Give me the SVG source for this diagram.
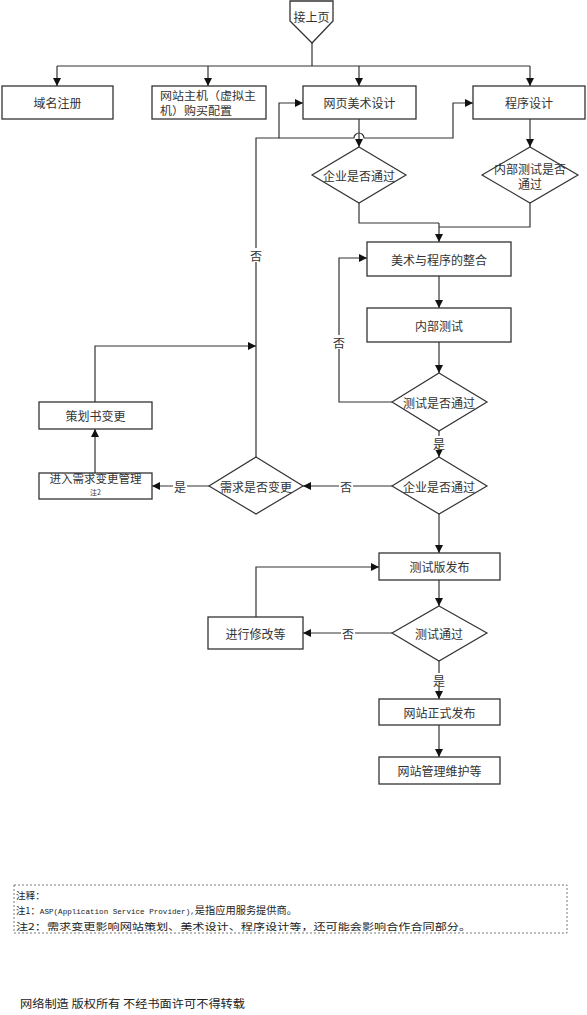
<svg xmlns="http://www.w3.org/2000/svg" width="587" height="1015" viewBox="0 0 587 1015">
<style>
.box{fill:#fff;stroke:#333;stroke-width:1.3}
.dia{fill:#fff;stroke:#333;stroke-width:1.2}
.t{font-family:"Noto Sans CJK SC","Noto Sans",sans-serif;font-size:12px;fill:#333;text-anchor:middle;dominant-baseline:central}
.n{font-family:"Noto Sans CJK SC","Noto Sans",sans-serif;font-size:9.6px;fill:#222}
.c{fill:none;stroke:#333;stroke-width:1.2}
.lb{fill:#fff;stroke:none}
</style>
<defs>
<marker id="ar" markerUnits="userSpaceOnUse" markerWidth="8" markerHeight="8" refX="8" refY="4" orient="auto">
<path d="M0,0 L8,4 L0,8 z" fill="#111"/>
</marker>
</defs>
<rect width="587" height="1015" fill="#fff"/>
<g id="connectors">
<path class="c" d="M312,43 V66"/>
<path class="c" d="M57,66 H530"/>
<path class="c" d="M57,66 V86" marker-end="url(#ar)"/>
<path class="c" d="M208,66 V86" marker-end="url(#ar)"/>
<path class="c" d="M359,66 V86" marker-end="url(#ar)"/>
<path class="c" d="M530,66 V86" marker-end="url(#ar)"/>
<path class="c" d="M256,457 V138 H279 V103 H303" marker-end="url(#ar)"/>
<path class="c" d="M279,138 H354 A5,5 0 0 1 364,138 H453 V103 H473" marker-end="url(#ar)"/>
<path class="c" d="M359,119 V147" marker-end="url(#ar)"/>
<path class="c" d="M530,119 V147" marker-end="url(#ar)"/>
<path class="c" d="M359,203 V223 H439"/>
<path class="c" d="M530,203 V227 H439"/>
<path class="c" d="M439,223 V242" marker-end="url(#ar)"/>
<path class="c" d="M439,276 V308" marker-end="url(#ar)"/>
<path class="c" d="M439,342 V373" marker-end="url(#ar)"/>
<path class="c" d="M392,402 H339 V258 H367" marker-end="url(#ar)"/>
<path class="c" d="M439,431 V457" marker-end="url(#ar)"/>
<path class="c" d="M392,486 H303" marker-end="url(#ar)"/>
<path class="c" d="M209,486 H152" marker-end="url(#ar)"/>
<path class="c" d="M95,473 V429" marker-end="url(#ar)"/>
<path class="c" d="M95,402 V346 H256" marker-end="url(#ar)"/>
<path class="c" d="M439,514 V553" marker-end="url(#ar)"/>
<path class="c" d="M439,580 V606" marker-end="url(#ar)"/>
<path class="c" d="M392,633 H303" marker-end="url(#ar)"/>
<path class="c" d="M256,617 V567 H379" marker-end="url(#ar)"/>
<path class="c" d="M439,661 V699" marker-end="url(#ar)"/>
<path class="c" d="M439,725 V757" marker-end="url(#ar)"/>
<rect class="lb" x="249" y="248" width="14" height="14"/><text class="t" x="256" y="255">否</text>
<rect class="lb" x="332" y="335" width="14" height="14"/><text class="t" x="339" y="342">否</text>
<rect class="lb" x="432" y="436" width="14" height="14"/><text class="t" x="439" y="443">是</text>
<rect class="lb" x="339" y="479" width="14" height="14"/><text class="t" x="346" y="486">否</text>
<rect class="lb" x="173" y="479" width="14" height="14"/><text class="t" x="180" y="486">是</text>
<rect class="lb" x="341" y="626" width="14" height="14"/><text class="t" x="348" y="633">否</text>
<rect class="lb" x="432" y="673" width="14" height="14"/><text class="t" x="439" y="680">是</text>
</g>
<g id="start"><path class="box" d="M290,1 H333 V21 L312,43 L290,21 Z"/><text class="t" x="311.5" y="16">接上页</text></g>
<g id="domain"><rect class="box" x="2" y="86" width="111" height="33"/><text class="t" x="57.5" y="102.5">域名注册</text></g>
<g id="host"><rect class="box" x="152" y="86" width="114" height="33"/><text class="t" x="160" y="94.5" style="text-anchor:start;font-size:11.5px" textLength="96" lengthAdjust="spacingAndGlyphs">网站主机（虚拟主</text><text class="t" x="160" y="110" style="text-anchor:start;font-size:11.5px" textLength="72" lengthAdjust="spacingAndGlyphs">机）购买配置</text></g>
<g id="art"><rect class="box" x="303" y="86" width="113" height="33"/><text class="t" x="359.5" y="102.5">网页美术设计</text></g>
<g id="prog"><rect class="box" x="473" y="86" width="112" height="33"/><text class="t" x="529" y="102.5">程序设计</text></g>
<g id="d1"><path class="dia" d="M359,147 L406,175 L359,203 L312,175 Z"/><text class="t" x="359" y="175">企业是否通过</text></g>
<g id="d2"><path class="dia" d="M530,147 L578,175 L530,203 L482,175 Z"/><text class="t" x="530" y="168">内部测试是否</text><text class="t" x="530" y="183">通过</text></g>
<g id="merge"><rect class="box" x="367" y="242" width="144" height="34"/><text class="t" x="439" y="259">美术与程序的整合</text></g>
<g id="itest"><rect class="box" x="367" y="308" width="144" height="34"/><text class="t" x="439" y="325">内部测试</text></g>
<g id="d3"><path class="dia" d="M439,373 L487,402 L439,431 L392,402 Z"/><text class="t" x="439" y="402">测试是否通过</text></g>
<g id="d4"><path class="dia" d="M439,457 L487,486 L439,514 L392,486 Z"/><text class="t" x="439" y="486">企业是否通过</text></g>
<g id="d5"><path class="dia" d="M256,457 L303,486 L256,514 L209,486 Z"/><text class="t" x="256" y="486">需求是否变更</text></g>
<g id="plan"><rect class="box" x="39" y="402" width="113" height="27"/><text class="t" x="95.5" y="415.5">策划书变更</text></g>
<g id="reqmgmt"><rect class="box" x="39" y="473" width="113" height="26"/><text class="t" x="95.5" y="478" style="font-size:11.5px">进入需求变更管理</text><text class="t" x="95.5" y="492" style="font-size:7px">注2</text></g>
<g id="beta"><rect class="box" x="379" y="553" width="121" height="27"/><text class="t" x="439.5" y="566.5">测试版发布</text></g>
<g id="d6"><path class="dia" d="M439,606 L487,633 L439,661 L392,633 Z"/><text class="t" x="439" y="633">测试通过</text></g>
<g id="fix"><rect class="box" x="208" y="617" width="95" height="32"/><text class="t" x="255.5" y="633">进行修改等</text></g>
<g id="release"><rect class="box" x="379" y="699" width="121" height="26"/><text class="t" x="439.5" y="712">网站正式发布</text></g>
<g id="maint"><rect class="box" x="379" y="757" width="121" height="27"/><text class="t" x="439.5" y="770.5">网站管理维护等</text></g>
<g id="notes">
<rect x="14" y="885" width="553" height="48" fill="none" stroke="#555" stroke-width="0.8" stroke-dasharray="2,2"/>
<text class="n" x="16" y="899">注释：</text>
<text class="n" x="16" y="914" textLength="281" lengthAdjust="spacingAndGlyphs">注1：<tspan style="font-family:'Liberation Mono',monospace;font-size:7.8px">ASP(Application Service Provider),</tspan><tspan style="font-size:10.5px">是指应用服务提供商。</tspan></text>
<text class="n" x="16" y="929.5" textLength="455" lengthAdjust="spacingAndGlyphs">注2：需求变更影响网站策划、美术设计、程序设计等，还可能会影响合作合同部分。</text>
</g>
<g id="footer"><text class="n" x="20" y="1008" style="font-size:11.5px" textLength="225" lengthAdjust="spacingAndGlyphs">网络制造 版权所有 不经书面许可不得转载</text></g>
</svg>
